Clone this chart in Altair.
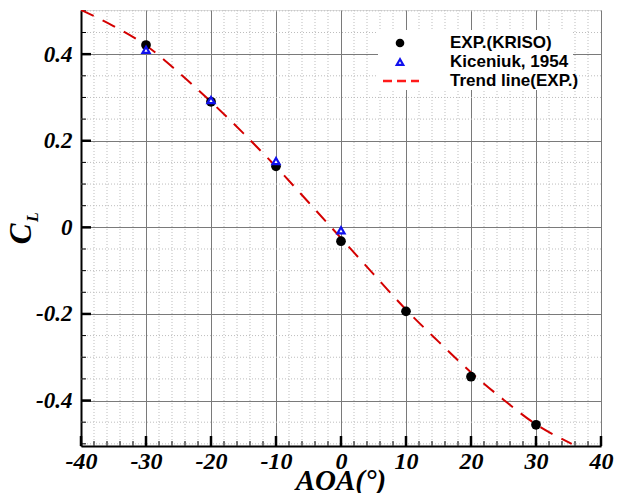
import altair as alt
import pandas as pd

# ---- data ----
aoa_exp = [-30, -20, -10, 0, 10, 20, 30]
cl_exp = [0.421, 0.290, 0.141, -0.032, -0.194, -0.345, -0.456]

aoa_kic = [-30, -20, -10, 0]
cl_kic = [0.410, 0.294, 0.153, -0.007]

trend_aoa = [-40, -35, -30, -25, -20, -15, -10, -5, 0, 5, 10, 15, 20, 25, 30, 35.5]
trend_cl = [0.502, 0.465, 0.420, 0.358, 0.290, 0.217, 0.140, 0.058, -0.025,
            -0.108, -0.190, -0.264, -0.335, -0.398, -0.455, -0.500]

x_major = [-40, -30, -20, -10, 0, 10, 20, 30, 40]
y_major = [-0.4, -0.2, 0, 0.2, 0.4]
x_minor = [v for v in range(-38, 40, 2) if v % 10 != 0]
y_minor = [-0.5, -0.45, -0.35, -0.3, -0.25, -0.15, -0.1, -0.05,
           0.05, 0.1, 0.15, 0.25, 0.3, 0.35, 0.45, 0.5]

legend_labels = ["EXP.(KRISO)", "Kiceniuk, 1954", "Trend line(EXP.)"]

W, H = 520, 436
XD = [-40, 40]
YD = [-0.505, 0.502]

xs = alt.Scale(domain=XD, nice=False, zero=False)
ys = alt.Scale(domain=YD, nice=False, zero=False)

df_exp = pd.DataFrame({"aoa": aoa_exp, "cl": cl_exp})
df_kic = pd.DataFrame({"aoa": aoa_kic, "cl": cl_kic})
df_tr = pd.DataFrame({"aoa": trend_aoa, "cl": trend_cl})
df_xmin = pd.DataFrame({"v": x_minor})
df_ymin = pd.DataFrame({"v": [v for v in y_minor if YD[0] <= v <= YD[1]]})
df_xmaj = pd.DataFrame({"v": x_major})
df_ymaj = pd.DataFrame({"v": y_major})

serif = "Liberation Serif"

x_axis = alt.Axis(values=x_major, grid=True, gridColor="#7a7a7a",
                  gridWidth=1, ticks=False, domain=True, domainColor="black",
                  domainWidth=2, labelFont=serif, labelFontSize=24,
                  labelFontStyle="italic", labelFontWeight="bold",
                  labelColor="black", labelPadding=3, title=None,
                  labelFlush=False,
                  labelExpr="(datum.value < 0 ? '-' : '') + format(abs(datum.value), 'd')")
y_axis = alt.Axis(values=y_major, grid=True, gridColor="#7a7a7a", gridWidth=1,
                  ticks=False, domain=True, domainColor="black", domainWidth=2,
                  labelFont=serif, labelFontSize=23, labelFontStyle="italic",
                  labelFontWeight="bold", labelColor="black", labelPadding=9,
                  title=None,
                  labelExpr="datum.value == 0 ? '0' : (datum.value < 0 ? '-' : '') + format(abs(datum.value), '.1f')")

base_axes = alt.Chart(df_exp).mark_point(opacity=0).encode(
    x=alt.X("aoa:Q", scale=xs, axis=x_axis),
    y=alt.Y("cl:Q", scale=ys, axis=y_axis),
)

minor_v = alt.Chart(df_xmin).mark_rule(color="#bdbdbd", strokeWidth=1,
                                       strokeDash=[1, 2]).encode(
    x=alt.X("v:Q", scale=xs))
minor_h = alt.Chart(df_ymin).mark_rule(color="#bdbdbd", strokeWidth=1,
                                       strokeDash=[1, 2]).encode(
    y=alt.Y("v:Q", scale=ys))

# inward ticks
tick_xmaj = alt.Chart(df_xmaj).mark_rule(color="black", strokeWidth=2.5).encode(
    x=alt.X("v:Q", scale=xs), y=alt.value(H), y2=alt.value(H - 10))
tick_xmin = alt.Chart(df_xmin).mark_rule(color="black", strokeWidth=1).encode(
    x=alt.X("v:Q", scale=xs), y=alt.value(H), y2=alt.value(H - 5))
tick_ymaj = alt.Chart(df_ymaj).mark_rule(color="black", strokeWidth=2.5).encode(
    y=alt.Y("v:Q", scale=ys), x=alt.value(0), x2=alt.value(10))
tick_ymin = alt.Chart(df_ymin).mark_rule(color="black", strokeWidth=1).encode(
    y=alt.Y("v:Q", scale=ys), x=alt.value(0), x2=alt.value(5))

trend = alt.Chart(df_tr).mark_line(color="#d40000", strokeWidth=2,
                                   strokeDash=[14, 10], interpolate="monotone",
                                   clip=True).encode(
    x=alt.X("aoa:Q", scale=xs), y=alt.Y("cl:Q", scale=ys))

exp_pts = alt.Chart(df_exp).mark_point(shape="circle", filled=True, color="black",
                                       size=95, opacity=1).encode(
    x=alt.X("aoa:Q", scale=xs), y=alt.Y("cl:Q", scale=ys))

kic_pts = alt.Chart(df_kic).mark_point(shape="triangle-up", filled=True,
                                       fill="white", stroke="#1010ee",
                                       strokeWidth=2.2, size=50, opacity=1,
                                       fillOpacity=1).encode(
    x=alt.X("aoa:Q", scale=xs), y=alt.Y("cl:Q", scale=ys))

# legend (decoration, pixel placed)
one = pd.DataFrame({"k": [0]})
leg_box = alt.Chart(one).mark_rect(color="white").encode(
    x=alt.value(297), x2=alt.value(492), y=alt.value(20), y2=alt.value(80))
leg_dot = alt.Chart(one).mark_point(shape="circle", filled=True, color="black",
                                    size=75, opacity=1).encode(
    x=alt.value(319), y=alt.value(33))
leg_tri = alt.Chart(one).mark_point(shape="triangle-up", filled=True, fill="white",
                                    stroke="#1010ee", strokeWidth=2.2, size=42,
                                    opacity=1).encode(
    x=alt.value(319), y=alt.value(52))
leg_line = alt.Chart(one).mark_rule(color="#ff1a1a", strokeWidth=2.5,
                                    strokeDash=[9, 5]).encode(
    x=alt.value(302), x2=alt.value(338), y=alt.value(71))
leg_text = alt.Chart(pd.DataFrame({"t": legend_labels, "yy": [33, 52, 71]})).mark_text(
    align="left", baseline="middle", font="Liberation Sans", fontWeight="bold",
    fontSize=17, color="black").encode(
    text="t:N", x=alt.value(369), y=alt.Y("yy:Q", scale=None))

# axis titles
title_c = alt.Chart(one).mark_text(text="C", font=serif, fontStyle="italic",
                                   fontWeight="bold", fontSize=31, angle=270,
                                   align="center", baseline="middle",
                                   color="black").encode(
    x=alt.value(-59), y=alt.value(224))
title_l = alt.Chart(one).mark_text(text="L", font=serif, fontStyle="italic",
                                   fontWeight="bold", fontSize=16, angle=270,
                                   align="center", baseline="middle",
                                   color="black").encode(
    x=alt.value(-48), y=alt.value(207))
title_x = alt.Chart(one).mark_text(text="AOA(°)", font=serif, fontStyle="italic",
                                   fontWeight="bold", fontSize=29, align="center",
                                   baseline="middle", color="black").encode(
    x=alt.value(W / 2), y=alt.value(H + 35))

chart = alt.layer(
    base_axes, minor_v, minor_h, tick_xmin, tick_ymin, tick_xmaj, tick_ymaj,
    trend, exp_pts, kic_pts,
    leg_box, leg_dot, leg_tri, leg_line, leg_text,
    title_c, title_l, title_x,
).properties(
    width=W, height=H,
    autosize=alt.AutoSizeParams(type="none"),
    padding={"left": 73, "top": 2, "right": 20, "bottom": 50},
).configure_view(
    stroke="black", strokeWidth=2
).configure(background="white")

chart.save("out.html", embed_options={"renderer": "svg", "actions": False})
